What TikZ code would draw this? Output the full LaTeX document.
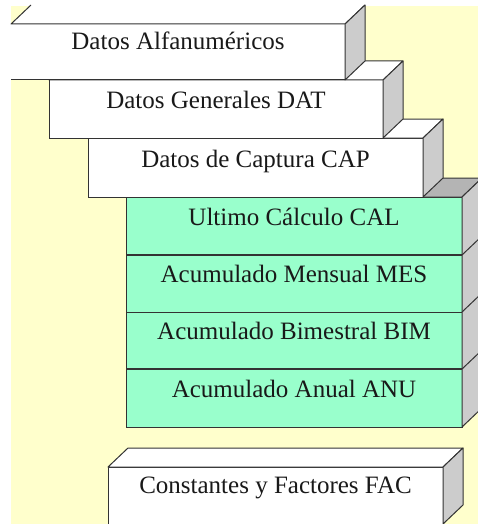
\documentclass[tikz,border=0pt]{standalone}
\usepackage{fontspec}
\setmainfont{Liberation Serif}
\usetikzlibrary{calc}
\definecolor{bgyellow}{HTML}{FFFFCC}
\definecolor{boxgreen}{HTML}{99FFCC}
\definecolor{sidegray}{HTML}{CCCCCC}
\definecolor{topgray}{HTML}{B4B4B4}
\definecolor{edgecol}{HTML}{333333}
\newcommand\drawfaces[3]{%
  \filldraw[face, fill=#2] (#1.north west) -- ($(#1.north west)+(20,-19)$) -- ($(#1.north east)+(20,-19)$) -- (#1.north east) -- cycle;
  \filldraw[face, fill=#3] (#1.north east) -- ($(#1.north east)+(20,-19)$) -- ($(#1.south east)+(20,-19)$) -- (#1.south east) -- cycle;}
\begin{document}
\begin{tikzpicture}[x=1pt,y=-1pt,
  front/.style={draw=edgecol, line width=1pt, anchor=north west, inner sep=0pt, outer sep=0pt},
  whitebox/.style={front, fill=white},
  greenbox/.style={front, fill=boxgreen, minimum width=336},
  lbl/.style={anchor=base, font=\fontsize{25}{30}\selectfont, text=black!90, inner sep=0pt},
  face/.style={draw=edgecol, line width=1pt, line join=round}]
\useasboundingbox (0,0) rectangle (478,524);
\clip (0,0) rectangle (478,524);
\fill[bgyellow] (11,6) rectangle (478,524);

% green stack
\node[greenbox, minimum height=58] (cal) at (126,197) {};
\node[greenbox, minimum height=57] (mes) at (126,255) {};
\node[greenbox, minimum height=57] (bim) at (126,312) {};
\node[greenbox, minimum height=58] (anu) at (126,369) {};
\filldraw[face, fill=topgray] (cal.north west) -- ($(cal.north west)+(20,-19)$) -- ($(cal.north east)+(20,-19)$) -- (cal.north east) -- cycle;
\filldraw[face, fill=sidegray] (cal.north east) -- ($(cal.north east)+(20,-19)$) -- ($(anu.south east)+(20,-19)$) -- (anu.south east) -- cycle;
\draw[face] (mes.north east) -- ($(mes.north east)+(20,-19)$);
\draw[face] (bim.north east) -- ($(bim.north east)+(20,-19)$);
\draw[face] (anu.north east) -- ($(anu.north east)+(20,-19)$);
\draw[edgecol, line width=1.6pt] (mes.north west) -- (mes.north east);
\draw[edgecol, line width=1.6pt] (anu.north west) -- (anu.north east);
\node[lbl] (tcal) at ($(cal.north)+(0,28)$) {Ultimo Cálculo CAL};
\node[lbl] (tmes) at ($(mes.north)+(0,27)$) {Acumulado Mensual MES};
\node[lbl] (tbim) at ($(bim.north)+(0,27)$) {Acumulado Bimestral BIM};
\node[lbl] (tanu) at ($(anu.north)+(0,28)$) {Acumulado Anual ANU};

% Datos de Captura
\node[whitebox, minimum width=335, minimum height=59] (cap) at (88,138) {};
\drawfaces{cap}{white}{sidegray}
\node[lbl] (tcap) at ($(cap.north)+(0,29)$) {Datos de Captura CAP};

% Datos Generales
\node[whitebox, minimum width=334, minimum height=58] (dat) at (49,80) {};
\drawfaces{dat}{white}{sidegray}
\node[lbl] (tdat) at ($(dat.north)+(0,29)$) {Datos Generales DAT};

% Datos Alfanumericos
\node[front, draw=none, fill=white, minimum width=334, minimum height=56] (alf) at (11,24) {};
\fill[white] (alf.north west) -- ($(alf.north west)+(20,-19)$) -- ($(alf.north east)+(20,-19)$) -- (alf.north east) -- cycle;
\draw[face] ($(alf.north west)+(20,-19)$) -- (alf.north west) -- (alf.north east) -- ($(alf.north east)+(20,-19)$);
\filldraw[face, fill=sidegray] (alf.north east) -- ($(alf.north east)+(20,-19)$) -- ($(alf.south east)+(20,-19)$) -- (alf.south east) -- cycle;
\draw[face] (alf.south west) -- (alf.south east);
\node[lbl] (talf) at ($(alf.north)+(0,26)$) {Datos Alfanuméricos};

% Constantes y Factores
\node[whitebox, minimum width=335, minimum height=57] (fac) at (108,467) {};
\drawfaces{fac}{white}{sidegray}
\node[lbl] (tfac) at ($(fac.north)+(0,26)$) {Constantes y Factores FAC};
\end{tikzpicture}
\end{document}
